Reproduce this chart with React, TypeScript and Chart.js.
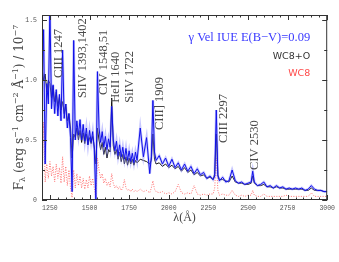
import React, { useEffect, useRef } from 'react';
import { Chart, registerables } from 'chart.js';

Chart.register(...registerables);

// Wavelength grid (Å)
const wavelengths = [
  1200, 1210, 1220, 1230, 1240, 1250, 1260, 1270, 1280, 1290,
  1300, 1310, 1320, 1330, 1340, 1350, 1360, 1370, 1380, 1390,
  1400, 1410, 1420, 1430, 1440, 1450, 1460, 1470, 1480, 1490,
  1500, 1510, 1520, 1530, 1540, 1550, 1560, 1570, 1580, 1590,
  1600, 1610, 1620, 1630, 1640, 1650, 1660, 1670, 1680, 1690,
  1700, 1710, 1720, 1730, 1740, 1750, 1760, 1770, 1780, 1790,
  1800, 1820, 1840, 1860, 1880, 1890, 1900, 1910, 1920, 1940,
  1960, 1980, 2000, 2020, 2040, 2060, 2080, 2100, 2120, 2140,
  2160, 2180, 2200, 2220, 2240, 2260, 2280, 2290, 2300, 2310,
  2320, 2340, 2360, 2380, 2400, 2420, 2440, 2460, 2480, 2500,
  2520, 2530, 2540, 2560, 2580, 2600, 2620, 2640, 2660, 2680,
  2700, 2720, 2740, 2760, 2780, 2800, 2820, 2840, 2860, 2880,
  2900, 2920, 2940, 2960, 2980, 3000,
];

// γ Vel IUE spectrum
const velIueFlux = [
  0.9, 1.42, 0.3, 0.97, 0.8, 1.6, 0.76, 0.96, 0.72, 0.92,
  0.7, 0.88, 0.66, 1.25, 0.68, 0.8, 0.6, 0.72, 0.52, 0.07,
  1.33, 0.5, 0.66, 0.54, 0.67, 0.5, 0.63, 0.49, 0.6, 0.46,
  0.58, 0.48, 0.57, 0.42, 0.0, 1.07, 0.6, 0.48, 0.57, 0.44,
  0.53, 0.42, 0.51, 0.44, 0.78, 0.5, 0.41, 0.49, 0.37, 0.46,
  0.36, 0.44, 0.34, 0.43, 0.33, 0.41, 0.32, 0.39, 0.31, 0.4,
  0.33, 0.6, 0.36, 0.52, 0.22, 0.36, 0.83, 0.4, 0.33, 0.37,
  0.3, 0.35, 0.28, 0.34, 0.27, 0.31, 0.25, 0.3, 0.24, 0.28,
  0.22, 0.26, 0.21, 0.23, 0.18, 0.2, 0.17, 0.2, 0.75, 0.2,
  0.16, 0.19, 0.15, 0.16, 0.25, 0.16, 0.14, 0.15, 0.13, 0.14,
  0.15, 0.24, 0.15, 0.12, 0.13, 0.15, 0.11, 0.12, 0.1, 0.12,
  0.1, 0.11, 0.09, 0.1, 0.09, 0.1, 0.09, 0.1, 0.08, 0.09,
  0.12, 0.09, 0.08, 0.08, 0.07, 0.07,
];

// WC8+O model
const wc8oFlux = [
  1.1, 1.0, 1.05, 0.9, 1.0, 0.97, 0.85, 0.95, 0.82, 0.9,
  0.78, 0.86, 0.75, 0.82, 0.72, 0.8, 0.66, 0.72, 0.6, 0.35,
  0.55, 0.52, 0.6, 0.5, 0.58, 0.48, 0.56, 0.47, 0.55, 0.46,
  0.52, 0.47, 0.53, 0.45, 0.3, 0.6, 0.5, 0.42, 0.48, 0.38,
  0.44, 0.35, 0.42, 0.4, 0.85, 0.45, 0.38, 0.42, 0.34, 0.4,
  0.32, 0.38, 0.3, 0.36, 0.29, 0.35, 0.3, 0.34, 0.29, 0.33,
  0.31, 0.34, 0.33, 0.32, 0.3, 0.33, 0.55, 0.34, 0.3, 0.31,
  0.28, 0.3, 0.27, 0.29, 0.26, 0.28, 0.24, 0.27, 0.23, 0.25,
  0.21, 0.23, 0.2, 0.21, 0.18, 0.19, 0.17, 0.22, 0.55, 0.21,
  0.17, 0.17, 0.16, 0.15, 0.2, 0.15, 0.14, 0.14, 0.13, 0.13,
  0.14, 0.2, 0.14, 0.12, 0.12, 0.13, 0.11, 0.11, 0.1, 0.11,
  0.1, 0.1, 0.09, 0.09, 0.09, 0.09, 0.09, 0.09, 0.08, 0.08,
  0.1, 0.08, 0.08, 0.08, 0.07, 0.07,
];

// WC8 model
const wc8Flux = [
  0.1, 0.65, 0.15, 0.3, 0.18, 0.32, 0.2, 0.28, 0.15, 0.3,
  0.18, 0.27, 0.14, 0.36, 0.15, 0.28, 0.12, 0.25, 0.1, 0.02,
  0.25, 0.1, 0.22, 0.12, 0.2, 0.1, 0.18, 0.09, 0.17, 0.1,
  0.2, 0.12, 0.18, 0.1, 0.02, 0.35, 0.25, 0.18, 0.22, 0.14,
  0.18, 0.12, 0.15, 0.11, 0.22, 0.14, 0.1, 0.12, 0.09, 0.11,
  0.08, 0.1, 0.17, 0.1, 0.08, 0.09, 0.07, 0.09, 0.07, 0.08,
  0.07, 0.09, 0.07, 0.08, 0.06, 0.1, 0.16, 0.09, 0.07, 0.06,
  0.07, 0.05, 0.06, 0.05, 0.07, 0.13, 0.06, 0.05, 0.06, 0.05,
  0.12, 0.05, 0.04, 0.05, 0.04, 0.05, 0.05, 0.1, 0.35, 0.08,
  0.04, 0.05, 0.04, 0.04, 0.08, 0.04, 0.03, 0.04, 0.03, 0.04,
  0.04, 0.08, 0.04, 0.03, 0.03, 0.05, 0.03, 0.03, 0.03, 0.03,
  0.03, 0.03, 0.04, 0.03, 0.03, 0.03, 0.03, 0.03, 0.03, 0.03,
  0.06, 0.03, 0.03, 0.03, 0.03, 0.03,
];

const xTickValues = [1250, 1500, 1750, 2000, 2250, 2500, 2750, 3000];
const yTickValues = [0, 0.5, 1.0, 1.5];

const seriesNames = ['γ Vel IUE E(B−V)=0.09', 'WC8+O', 'WC8'];

// Line identifications
const lineLabelTexts = ['CIII 1247', 'SiIV 1393,1402', 'CIV 1548,51', 'HeII 1640', 'SiIV 1722', 'CIII] 1909', 'CIII 2297', 'CIV 2530'];
const lineLabelWavelengths = [1305, 1455, 1590, 1665, 1752, 1940, 2347, 2540];
const lineLabelFlux = [1.017, 0.85, 0.875, 0.81, 0.81, 0.583, 0.475, 0.25];

const toPoints = (vals: number[]) => vals.map((v, i) => ({ x: wavelengths[i], y: v }));

const decorPlugin = {
  id: 'decor',
  afterDatasetsDraw(chart: any) {
    const { ctx, chartArea: a, scales } = chart;
    const xs = scales.x;
    const ys = scales.y;
    ctx.save();
    ctx.strokeStyle = '#333';
    ctx.lineWidth = 1;
    ctx.strokeRect(a.left + 0.5, a.top + 0.5, a.right - a.left - 1, a.bottom - a.top - 1);
    ctx.beginPath();
    for (let v = 1200; v <= 3000; v += 50) {
      const px = Math.round(xs.getPixelForValue(v)) + 0.5;
      const len = v % 250 === 0 ? 5 : 2.5;
      ctx.moveTo(px, a.bottom);
      ctx.lineTo(px, a.bottom - len);
      ctx.moveTo(px, a.top);
      ctx.lineTo(px, a.top + len);
    }
    for (let v = 0; v <= 1.5001; v += 0.25) {
      const py = Math.round(ys.getPixelForValue(v)) + 0.5;
      const len = Math.abs(v * 2 - Math.round(v * 2)) < 1e-6 ? 5 : 3;
      ctx.moveTo(a.left, py);
      ctx.lineTo(a.left + len, py);
      ctx.moveTo(a.right, py);
      ctx.lineTo(a.right - len, py);
    }
    ctx.stroke();

    ctx.fillStyle = '#4a4a4a';
    ctx.font = '12.5px "Liberation Serif"';
    ctx.textAlign = 'left';
    ctx.textBaseline = 'middle';
    lineLabelTexts.forEach((t, i) => {
      const px = xs.getPixelForValue(lineLabelWavelengths[i]);
      const py = ys.getPixelForValue(lineLabelFlux[i]);
      ctx.save();
      ctx.translate(px, py);
      ctx.rotate(-Math.PI / 2);
      ctx.fillText(t, 0, 0);
      ctx.restore();
    });

    ctx.textAlign = 'right';
    const rx = a.right - 17;
    ctx.font = '12.5px "Liberation Serif"';
    ctx.fillStyle = '#3a3aff';
    ctx.fillText(seriesNames[0], rx, a.top + 23);
    ctx.font = '9.5px "DejaVu Sans"';
    ctx.fillStyle = '#333';
    ctx.fillText(seriesNames[1], rx, a.top + 42);
    ctx.fillStyle = '#ff4a4a';
    ctx.fillText(seriesNames[2], rx, a.top + 59);

    ctx.textAlign = 'center';
    ctx.fillStyle = '#444';
    ctx.font = '12px "Liberation Serif"';
    ctx.fillText('λ(Å)', (a.left + a.right) / 2, a.bottom + 18);

    const big = '12px "DejaVu Serif"';
    const small = '8px "DejaVu Serif"';
    const segs: [string, string, number][] = [
      ['F', big, 0],
      ['λ', small, 3],
      [' (erg s', big, 0],
      ['−1', small, -4],
      [' cm', big, 0],
      ['−2', small, -4],
      [' Å', big, 0],
      ['−1', small, -4],
      [') / 10', big, 0],
      ['−7', small, -4],
    ];
    let total = 0;
    segs.forEach(([t, f]) => {
      ctx.font = f;
      total += ctx.measureText(t).width;
    });
    ctx.save();
    ctx.translate(20, (a.top + a.bottom) / 2);
    ctx.rotate(-Math.PI / 2);
    ctx.textAlign = 'left';
    ctx.textBaseline = 'middle';
    ctx.fillStyle = '#444';
    let cx = -total / 2;
    segs.forEach(([t, f, dy]) => {
      ctx.font = f;
      ctx.fillText(t, cx, dy);
      cx += ctx.measureText(t).width;
    });
    ctx.restore();

    ctx.restore();
  },
};

export default function App() {
  const canvasRef = useRef<HTMLCanvasElement | null>(null);

  useEffect(() => {
    document.body.style.margin = '0';
    const canvas = canvasRef.current;
    if (!canvas) return;
    const tickFont = { family: '"Liberation Mono"', size: 6.5 };
    const chart = new Chart(canvas, {
      type: 'line',
      data: {
        datasets: [
          {
            label: seriesNames[0],
            data: toPoints(velIueFlux),
            borderColor: '#1010e8',
            borderWidth: 1,
            pointRadius: 0,
            tension: 0,
            order: 0,
          },
          {
            label: 'band',
            data: toPoints(velIueFlux),
            borderColor: 'rgba(130,130,255,0.45)',
            borderWidth: 2.5,
            pointRadius: 0,
            tension: 0,
            order: 1,
          },
          {
            label: seriesNames[1],
            data: toPoints(wc8oFlux),
            borderColor: '#151515',
            borderWidth: 1,
            pointRadius: 0,
            tension: 0,
            order: 2,
          },
          {
            label: seriesNames[2],
            data: toPoints(wc8Flux),
            borderColor: 'rgba(255,90,90,0.85)',
            borderWidth: 1,
            borderDash: [1, 1.5],
            pointRadius: 0,
            tension: 0,
            order: 3,
          },
        ],
      },
      options: {
        animation: false,
        responsive: true,
        maintainAspectRatio: false,
        layout: { padding: { top: 15, right: 9, left: 0, bottom: 0 } },
        plugins: { legend: { display: false }, tooltip: { enabled: false } },
        scales: {
          x: {
            type: 'linear',
            min: 1200,
            max: 3000,
            afterBuildTicks: (s: any) => {
              s.ticks = xTickValues.map((v) => ({ value: v }));
            },
            afterFit: (s: any) => {
              s.height = 62;
            },
            grid: { display: false, drawTicks: false },
            border: { display: false },
            ticks: {
              font: tickFont,
              color: '#555',
              padding: 4,
              maxRotation: 0,
              autoSkip: false,
              callback: (v: any) => String(v),
            },
          },
          y: {
            type: 'linear',
            min: 0,
            max: 1.542,
            afterBuildTicks: (s: any) => {
              s.ticks = yTickValues.map((v) => ({ value: v }));
            },
            afterFit: (s: any) => {
              s.width = 42;
            },
            grid: { display: false, drawTicks: false },
            border: { display: false },
            ticks: {
              font: tickFont,
              color: '#555',
              padding: 5,
              callback: (v: any) => (Number(v) === 0 ? '0' : Number(v).toFixed(1)),
            },
          },
        },
      },
      plugins: [decorPlugin],
    } as any);
    return () => chart.destroy();
  }, []);

  return (
    <div style={{ width: 339, height: 262, position: 'relative' }}>
      <canvas ref={canvasRef} />
    </div>
  );
}
